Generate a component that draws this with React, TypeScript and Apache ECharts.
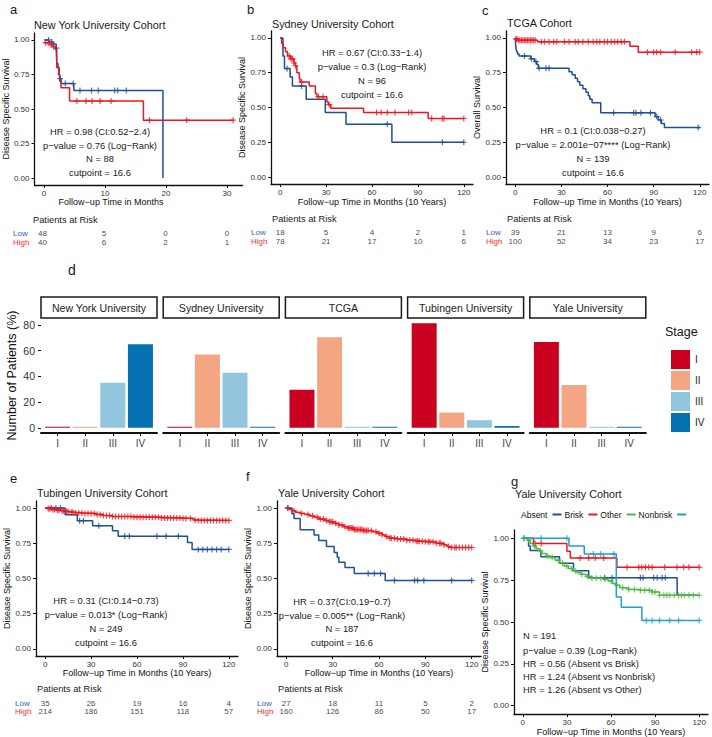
import React, { useEffect, useRef } from 'react';
import * as echarts from 'echarts';

const FONT = "'Liberation Sans', Arial, Helvetica, sans-serif";
const BLUE = '#1f4e9a';
const RED = '#f0161e';
const GREEN = '#4db944';
const CYAN = '#1ba3c8';
const LOWTXT = '#2f63b5';
const HIGHTXT = '#ff2a2a';

// ---------- shared ticks ----------
const survTicks = [0, 0.25, 0.5, 0.75, 1];
const months120Ticks = [0, 30, 60, 90, 120];
const nyuTicks = [0, 10, 20, 30];

// ---------- a: New York University ----------
const nyuLow = [[0, 1], [0.8, 0.985], [1.5, 0.97], [2.0, 0.94], [2.1, 0.83], [2.3, 0.8], [2.5, 0.75], [2.6, 0.72], [2.8, 0.684], [4.9, 0.634], [19.5, 0]];
const nyuHigh = [[0, 0.98], [1.0, 0.965], [1.5, 0.95], [1.9, 0.93], [2.1, 0.8], [2.4, 0.75], [2.6, 0.7], [2.8, 0.653], [4.2, 0.557], [16.3, 0.419], [31, 0.419]];
const nyuLowCensor = [0.75, 1.3, 2.05, 2.65, 3.5, 4.8, 5.9, 7.8, 8.9, 11.6, 12.1, 13.5];
const nyuHighCensor = [0.3, 0.7, 1.2, 1.6, 5.4, 6.9, 7.9, 9.2, 11.0, 17.3, 23.4, 31];
const nyuRiskTimes = [0, 10, 20, 30];
const nyuRiskLow = [48, 5, 0, 0];
const nyuRiskHigh = [40, 6, 2, 1];

// ---------- b: Sydney University ----------
const sydLow = [[0, 1], [1.8, 0.87], [2.8, 0.78], [6.5, 0.72], [8, 0.655], [17, 0.56], [29.5, 0.464], [43, 0.38], [73, 0.25], [120, 0.25]];
const sydHigh = [[0, 1], [1, 0.96], [2, 0.93], [3.5, 0.9], [4.8, 0.87], [7, 0.85], [9, 0.82], [10, 0.8], [10.9, 0.75], [12.5, 0.71], [13, 0.683], [19, 0.655], [23, 0.6], [24, 0.578], [30.5, 0.54], [31.5, 0.52], [33, 0.495], [54.5, 0.464], [96.7, 0.421], [120, 0.421]];
const sydLowCensor = [4.5, 14, 70, 106, 120];
const sydHighCensor = [6, 7, 8, 9, 10, 14, 25, 28, 32, 63, 66, 70, 75, 84, 86, 99, 106, 107, 120];
const sydRiskTimes = [0, 30, 60, 90, 120];
const sydRiskLow = [18, 5, 4, 2, 1];
const sydRiskHigh = [78, 21, 17, 10, 6];

// ---------- c: TCGA ----------
const tcgaLow = [[0, 1], [0.3, 0.95], [0.6, 0.92], [1, 0.9], [1.5, 0.885], [2.5, 0.87], [10, 0.85], [12.5, 0.83], [14, 0.81], [15, 0.782], [35, 0.757], [37, 0.735], [39, 0.71], [40.5, 0.685], [42, 0.66], [44, 0.635], [46, 0.61], [47.5, 0.585], [48.5, 0.56], [50, 0.535], [55.6, 0.462], [91, 0.435], [93, 0.41], [95, 0.385], [97, 0.356], [120, 0.356]];
const tcgaHigh = [[0, 0.993], [1.5, 0.983], [14.5, 0.972], [74.6, 0.94], [80, 0.898], [120, 0.898]];
const tcgaLowCensor = [6, 10.5, 13.4, 15.5, 20, 22, 64, 77, 78.5, 81.7, 88, 92, 94.5, 119];
const tcgaHighCensor = [0.5, 1, 2, 3, 4, 5, 6, 7, 8, 9, 10, 11, 12, 13, 17, 19, 22, 25, 27, 32, 35, 39, 41, 44, 47.5, 50.7, 53, 55, 58, 60, 62.5, 64.6, 66.7, 69, 71, 86, 90, 92, 94.5, 104, 114.7, 118, 120];
const tcgaRiskTimes = [0, 30, 60, 90, 120];
const tcgaRiskLow = [39, 21, 13, 9, 6];
const tcgaRiskHigh = [100, 52, 34, 23, 17];

// ---------- d: stage distribution ----------
const cohorts = ['New York University', 'Sydney University', 'TCGA', 'Tubingen University', 'Yale University'];
const stages = ['I', 'II', 'III', 'IV'];
const stageI = [0, 0, 29.5, 81.3, 66.7];
const stageII = [0, 57.1, 70.5, 11.8, 33.3];
const stageIII = [35, 42.9, 0, 5.9, 0];
const stageIV = [65, 0, 0, 1.3, 0];
const stageTicks = [0, 20, 40, 60, 80];
const stageColors = ['#ca0020', '#f4a582', '#92c5de', '#0571b0'];

// ---------- e: Tubingen ----------
const tubLow = [[0, 1], [13, 0.953], [21, 0.91], [31, 0.874], [44, 0.838], [47.7, 0.8], [93, 0.756], [96, 0.706], [120, 0.706]];
const tubHigh = [[0, 1], [2, 0.995], [4, 0.99], [7, 0.985], [10, 0.98], [13, 0.975], [16, 0.97], [20, 0.965], [25, 0.962], [33, 0.955], [38, 0.947], [44, 0.94], [58, 0.935], [76, 0.93], [90, 0.926], [97, 0.916], [100, 0.912], [120, 0.912]];
const tubLowCensor = [4, 7, 10, 22.5, 25, 35, 52, 55, 73, 79, 87, 100, 103, 106, 109, 112, 115, 120];
const tubHighCensor = [2, 3, 5, 6, 8, 9, 11, 12, 14, 15, 17, 18, 20, 22, 24, 26, 28, 30, 32, 34, 36, 38, 40, 42, 44, 46, 48, 50, 52, 54, 56, 58, 60, 62, 64, 66, 68, 70, 72, 74, 76, 78, 80, 82, 84, 86, 88, 90, 92, 95, 98, 100, 102, 104, 106, 108, 110, 112, 114, 116, 118, 120];
const tubRiskTimes = [0, 30, 60, 90, 120];
const tubRiskLow = [35, 26, 19, 16, 4];
const tubRiskHigh = [214, 186, 151, 118, 57];

// ---------- f: Yale ----------
const yaleLow = [[0, 1], [3.7, 0.96], [5, 0.926], [9, 0.846], [18, 0.808], [21, 0.77], [26, 0.727], [31, 0.685], [33, 0.65], [34, 0.616], [38, 0.578], [44, 0.536], [64, 0.486], [120, 0.486]];
const yaleHigh = [[0, 1], [2, 0.99], [4, 0.98], [6, 0.97], [9, 0.962], [12, 0.955], [15, 0.945], [18, 0.935], [21, 0.922], [25, 0.912], [28, 0.902], [31, 0.892], [34, 0.88], [37, 0.868], [40, 0.858], [44, 0.847], [50, 0.84], [56, 0.832], [59, 0.822], [62, 0.81], [64, 0.798], [67, 0.786], [72, 0.78], [78, 0.772], [84, 0.765], [90, 0.76], [97, 0.75], [102, 0.74], [104, 0.727], [106, 0.72], [120, 0.72]];
const yaleLowCensor = [1, 53, 57, 61, 70, 83, 85, 89, 107, 120];
const yaleHighCensor = [1, 5, 10, 14, 17, 20, 22, 24, 26, 28, 29, 30, 32, 34, 36, 38, 40, 41, 42, 43, 44, 45, 46, 47, 48, 49, 50, 51, 52, 53, 55, 58, 60, 62, 65, 67, 68, 70, 72, 74, 76, 78, 80, 82, 84, 85, 86, 88, 90, 92, 93, 95, 97, 99, 100, 102, 105, 107, 109, 110, 112, 114, 116, 118, 120];
const yaleRiskTimes = [0, 30, 60, 90, 120];
const yaleRiskLow = [27, 18, 11, 5, 2];
const yaleRiskHigh = [160, 126, 86, 50, 17];

// ---------- g: Yale TIL groups ----------
const tilAbsent = [[0, 1], [3.9, 0.954], [5, 0.927], [12.3, 0.89], [25, 0.851], [34.5, 0.807], [44.8, 0.764], [105, 0.66], [120, 0.66]];
const tilBrisk = [[0, 1], [7.3, 0.97], [30, 0.923], [32.3, 0.883], [64, 0.827], [120, 0.827]];
const tilOther = [[0, 1], [3, 0.99], [5, 0.97], [7, 0.955], [9, 0.94], [11, 0.925], [13, 0.91], [16, 0.895], [19, 0.885], [22, 0.87], [25, 0.855], [28, 0.835], [31, 0.82], [34, 0.805], [37, 0.795], [40, 0.785], [43, 0.772], [47, 0.762], [55, 0.755], [58, 0.745], [61, 0.73], [63, 0.72], [66, 0.705], [72, 0.695], [80, 0.69], [88, 0.68], [93, 0.66], [120, 0.66]];
const tilNonbrisk = [[0, 1], [31.4, 0.954], [41.8, 0.907], [63.6, 0.649], [67, 0.589], [81, 0.51], [120, 0.51]];
const tilAbsentCensor = [55.7, 60.7, 80, 81.8, 89, 91.4, 94.8, 97];
const tilBriskCensor = [8.4, 12.5, 39, 44.8, 49.3, 55, 70.9, 78.9, 81, 83.4, 85.7, 88, 96.6, 105, 109.5, 113, 120];
const tilOtherCensor = [1, 4, 8, 12, 17, 20, 24, 27, 30, 33, 36, 40, 44, 47, 50, 53, 56, 60, 64, 68, 72, 76, 80, 83, 86, 88, 90, 93, 96, 98, 100, 103, 106, 108, 110, 113, 116, 120];
const tilNonbriskCensor = [0.5, 12.5, 30, 48, 53, 62, 84, 88, 93, 100, 106, 120];

const PLUS = 'path://M3.6,0H5.4V3.6H9V5.4H5.4V9H3.6V5.4H0V3.6H3.6Z';

function survAt(curve: number[][], t: number) {
  let s = curve[0][1];
  for (const [ti, si] of curve) {
    if (ti <= t) s = si;
    else break;
  }
  return s;
}

function buildOption() {
  const grid: any[] = [];
  const xAxis: any[] = [];
  const yAxis: any[] = [];
  const series: any[] = [];
  const graphic: any[] = [];

  const txt = (x: number, y: number, text: string, size: number, align = 'left', fill = '#1a1a1a') => {
    graphic.push({
      type: 'text', x, y, silent: true,
      style: { text, fontSize: size, fontFamily: FONT, fill, align, verticalAlign: 'middle', textAlign: align, textVerticalAlign: 'middle' },
    });
  };

  const axisLine = { show: true, onZero: false, lineStyle: { color: '#111', width: 1.3 } };

  function km(p: any) {
    const gi = grid.length;
    grid.push({ left: p.left, top: p.top, width: p.width, height: p.height });
    xAxis.push({
      gridIndex: gi, type: 'value', min: p.xMin, max: p.xMax,
      axisLine,
      axisTick: { show: true, customValues: p.xTicks, length: 3, lineStyle: { color: '#111', width: 1 } },
      axisLabel: { customValues: p.xTicks, fontSize: 8, color: '#333', margin: 4, fontFamily: FONT },
      splitLine: { show: false },
      name: p.xName || '', nameLocation: 'middle', nameGap: p.xNameGap,
      nameTextStyle: { fontSize: 9, color: '#111', fontFamily: FONT },
    });
    yAxis.push({
      gridIndex: gi, type: 'value', min: -0.05, max: 1.05,
      axisLine,
      axisTick: { show: true, customValues: survTicks, length: 3, lineStyle: { color: '#111', width: 1 } },
      axisLabel: { customValues: survTicks, formatter: (v: number) => Number(v).toFixed(2), fontSize: 8, color: '#333', margin: 5, fontFamily: FONT },
      splitLine: { show: false },
      name: p.yName, nameLocation: 'middle', nameGap: p.yNameGap,
      nameTextStyle: { fontSize: 9, color: '#111', fontFamily: FONT },
    });
    for (const c of p.curves) {
      series.push({
        type: 'line', name: c.name, step: 'end', data: c.data, showSymbol: false, symbol: 'none',
        xAxisIndex: gi, yAxisIndex: gi, color: c.color,
        itemStyle: { color: c.color }, lineStyle: { color: c.color, width: 1.5 }, z: 2,
      });
      series.push({
        type: 'scatter', name: c.name + ' censored', symbol: PLUS, symbolSize: 6,
        data: c.censor.map((t: number) => [t, survAt(c.data, t)]),
        xAxisIndex: gi, yAxisIndex: gi, itemStyle: { color: c.color }, z: 3,
      });
    }
    if (p.risk) {
      const r = p.risk;
      const ri = grid.length;
      grid.push({ left: p.left, top: r.top, width: p.width, height: 17 });
      xAxis.push({ gridIndex: ri, type: 'value', min: p.xMin, max: p.xMax, show: false });
      yAxis.push({
        gridIndex: ri, type: 'category', data: ['High', 'Low'],
        axisLine: { show: false }, axisTick: { show: false }, splitLine: { show: false },
        axisLabel: {
          interval: 0, hideOverlap: false,
          align: 'left', margin: r.margin, fontFamily: FONT,
          formatter: (v: string) => `{${v === 'Low' ? 'lo' : 'hi'}|${v}}`,
          rich: { lo: { color: LOWTXT, fontSize: 8, fontFamily: FONT }, hi: { color: HIGHTXT, fontSize: 8, fontFamily: FONT } },
        },
      });
      const mk = (cat: string, vals: number[]) => ({
        type: 'scatter', symbolSize: 1, xAxisIndex: ri, yAxisIndex: ri,
        itemStyle: { color: 'rgba(0,0,0,0)' },
        data: r.times.map((t: number, i: number) => [t, cat, vals[i]]),
        label: { show: true, position: 'inside', formatter: (q: any) => String(q.value[2]), fontSize: 8, color: '#111', fontFamily: FONT },
        labelLayout: { hideOverlap: false },
      });
      series.push(mk('Low', r.low));
      series.push(mk('High', r.high));
      txt(r.titleX, r.titleY, 'Patients at Risk', 9.3);
    }
    txt(p.letterX, p.letterY, p.letter, 13);
    txt(p.titleX, p.titleY, p.title, 10.8);
    p.notes.forEach((n: string, i: number) => txt(p.noteX, p.noteYs[i], n, 9.4, p.noteAlign || 'center'));
  }

  // a
  km({
    left: 33, top: 33, width: 209.6, height: 152, xMin: -1.55, xMax: 32.55, xTicks: nyuTicks,
    xName: '', xNameGap: 13, yName: 'Disease Specific Survival', yNameGap: 20,
    curves: [
      { name: 'NYU Low', color: BLUE, data: nyuLow, censor: nyuLowCensor },
      { name: 'NYU High', color: RED, data: nyuHigh, censor: nyuHighCensor },
    ],
    risk: { top: 229.5, margin: 20, times: nyuRiskTimes, low: nyuRiskLow, high: nyuRiskHigh, titleX: 33, titleY: 220 },
    letter: 'a', letterX: 10, letterY: 9, title: 'New York University Cohort', titleX: 34, titleY: 25,
    noteX: 100, noteYs: [131.7, 145, 158.3, 172.3],
    notes: ['HR = 0.98 (CI:0.52\u22122.4)', 'p\u2212value = 0.76 (Log\u2212Rank)', 'N = 88', 'cutpoint = 16.6'],
  });
  txt(111, 202, 'Follow\u2212up Time in Months', 9, 'center', '#111');

  // b
  km({
    left: 271, top: 31, width: 202, height: 153, xMin: -6, xMax: 126, xTicks: months120Ticks,
    xName: 'Follow\u2212up Time in Months (10 Years)', xNameGap: 13, yName: 'Disease Specific Survival', yNameGap: 22,
    curves: [
      { name: 'Syd Low', color: BLUE, data: sydLow, censor: sydLowCensor },
      { name: 'Syd High', color: RED, data: sydHigh, censor: sydHighCensor },
    ],
    risk: { top: 228.5, margin: 20, times: sydRiskTimes, low: sydRiskLow, high: sydRiskHigh, titleX: 272, titleY: 219 },
    letter: 'b', letterX: 247, letterY: 9, title: 'Sydney University Cohort', titleX: 272, titleY: 24,
    noteX: 372, noteYs: [52.7, 66.7, 80, 94.3],
    notes: ['HR = 0.67 (CI:0.33\u22121.4)', 'p\u2212value = 0.3 (Log\u2212Rank)', 'N = 96', 'cutpoint = 16.6'],
  });

  // c
  km({
    left: 506, top: 31, width: 203, height: 153, xMin: -6, xMax: 126, xTicks: months120Ticks,
    xName: 'Follow\u2212up Time in Months (10 Years)', xNameGap: 13, yName: 'Overall Survival', yNameGap: 22,
    curves: [
      { name: 'TCGA Low', color: BLUE, data: tcgaLow, censor: tcgaLowCensor },
      { name: 'TCGA High', color: RED, data: tcgaHigh, censor: tcgaHighCensor },
    ],
    risk: { top: 228.5, margin: 20, times: tcgaRiskTimes, low: tcgaRiskLow, high: tcgaRiskHigh, titleX: 507, titleY: 219 },
    letter: 'c', letterX: 482, letterY: 10, title: 'TCGA Cohort', titleX: 507, titleY: 23,
    noteX: 593, noteYs: [130, 144, 158.3, 172.3],
    notes: ['HR = 0.1 (CI:0.038\u22120.27)', 'p\u2212value = 2.001e\u221207**** (Log\u2212Rank)', 'N = 139', 'cutpoint = 16.6'],
  });

  // d
  const stageVals = [stageI, stageII, stageIII, stageIV];
  cohorts.forEach((name, i) => {
    const gi = grid.length;
    const left = 41 + i * 122.2;
    grid.push({ left, top: 318, width: 116, height: 115 });
    xAxis.push({
      gridIndex: gi, type: 'value', min: 0.4, max: 4.6,
      axisLine: { show: true, onZero: false, lineStyle: { color: '#111', width: 2 } },
      axisTick: { show: true, customValues: [1, 2, 3, 4], length: 3, lineStyle: { color: '#111', width: 1 } },
      axisLabel: { customValues: [1, 2, 3, 4], formatter: (v: number) => stages[Math.round(v) - 1], fontSize: 10, color: '#444', margin: 5, fontFamily: FONT },
      splitLine: { show: false },
    });
    yAxis.push({
      gridIndex: gi, type: 'value', min: -4.07, max: 85.4, show: i === 0,
      axisLine: { show: false, onZero: false },
      axisTick: { show: true, customValues: stageTicks, length: 3, lineStyle: { color: '#111' } },
      axisLabel: { customValues: stageTicks, fontSize: 10.5, color: '#333', margin: 6, fontFamily: FONT },
      splitLine: { show: false },
      name: i === 0 ? 'Number of Patients (%)' : '', nameLocation: 'middle', nameGap: 23,
      nameTextStyle: { fontSize: 12.5, color: '#111', fontFamily: FONT },
    });
    stages.forEach((s, k) => {
      series.push({
        type: 'bar', name: s, xAxisIndex: gi, yAxisIndex: gi, barWidth: 25, barGap: '-100%', barMinHeight: 1,
        data: [[k + 1, stageVals[k][i]]], color: stageColors[k], itemStyle: { color: stageColors[k] },
      });
    });
    graphic.push({ type: 'rect', silent: true, shape: { x: left, y: 297, width: 116, height: 21 }, style: { fill: '#fff', stroke: '#1a1a1a', lineWidth: 1.5 } });
    txt(left + 58, 307.5, name, 10.6, 'center', '#222');
  });
  txt(68, 270, 'd', 14);
  txt(665, 332, 'Stage', 12.5, 'left', '#111');

  // e
  km({
    left: 36, top: 501, width: 202, height: 155, xMin: -6, xMax: 126, xTicks: months120Ticks,
    xName: 'Follow\u2212up Time in Months (10 Years)', xNameGap: 11, yName: 'Disease Specific Survival', yNameGap: 23,
    curves: [
      { name: 'Tub Low', color: BLUE, data: tubLow, censor: tubLowCensor },
      { name: 'Tub High', color: RED, data: tubHigh, censor: tubHighCensor },
    ],
    risk: { top: 699, margin: 21, times: tubRiskTimes, low: tubRiskLow, high: tubRiskHigh, titleX: 37, titleY: 689 },
    letter: 'e', letterX: 10, letterY: 478, title: 'Tubingen University Cohort', titleX: 37, titleY: 493,
    noteX: 106, noteYs: [600, 614.3, 628.3, 642.3],
    notes: ['HR = 0.31 (CI:0.14\u22120.73)', 'p\u2212value = 0.013* (Log\u2212Rank)', 'N = 249', 'cutpoint = 16.6'],
  });

  // f
  km({
    left: 277, top: 501, width: 204, height: 155, xMin: -6, xMax: 126, xTicks: months120Ticks,
    xName: 'Follow\u2212up Time in Months (10 Years)', xNameGap: 11, yName: 'Disease Specific Survival', yNameGap: 23,
    curves: [
      { name: 'Yale Low', color: BLUE, data: yaleLow, censor: yaleLowCensor },
      { name: 'Yale High', color: RED, data: yaleHigh, censor: yaleHighCensor },
    ],
    risk: { top: 699, margin: 20, times: yaleRiskTimes, low: yaleRiskLow, high: yaleRiskHigh, titleX: 278, titleY: 689 },
    letter: 'f', letterX: 246, letterY: 476, title: 'Yale University Cohort', titleX: 278, titleY: 493,
    noteX: 342, noteYs: [601.7, 615, 628.3, 642.3],
    notes: ['HR = 0.37(CI:0.19\u22120.7)', 'p\u2212value = 0.005** (Log\u2212Rank)', 'N = 187', 'cutpoint = 16.6'],
  });

  // g
  km({
    left: 514, top: 530, width: 194, height: 185, xMin: -6, xMax: 126, xTicks: months120Ticks,
    xName: 'Follow\u2212up Time in Months (10 Years)', xNameGap: 9, yName: 'Disease Specific Survival', yNameGap: 21,
    curves: [
      { name: 'Absent', color: BLUE, data: tilAbsent, censor: tilAbsentCensor },
      { name: 'Brisk', color: RED, data: tilBrisk, censor: tilBriskCensor },
      { name: 'Other', color: GREEN, data: tilOther, censor: tilOtherCensor },
      { name: 'Nonbrisk', color: CYAN, data: tilNonbrisk, censor: tilNonbriskCensor },
    ],
    letter: 'g', letterX: 511, letterY: 481, title: 'Yale University Cohort', titleX: 515, titleY: 494,
    noteX: 523, noteAlign: 'left', noteYs: [635.7, 650, 663.3, 676, 689.3],
    notes: ['N = 191', 'p\u2212value = 0.39 (Log\u2212Rank)', 'HR = 0.56 (Absent vs Brisk)', 'HR = 1.24 (Absent vs Nonbrisk)', 'HR = 1.26 (Absent vs Other)'],
  });

  return {
    animation: false,
    backgroundColor: '#fff',
    textStyle: { fontFamily: FONT },
    grid, xAxis, yAxis, series, graphic,
    legend: [
      {
        data: stages, orient: 'vertical', left: 666, top: 345, itemWidth: 19, itemHeight: 19, itemGap: 2,
        icon: 'rect', selectedMode: false, textStyle: { fontSize: 10, color: '#222', fontFamily: FONT },
      },
      {
        data: ['Absent', 'Brisk', 'Other', 'Nonbrisk'], orient: 'horizontal', left: 521, top: 510, align: 'right',
        itemWidth: 9, itemHeight: 2, itemGap: 3, icon: 'rect', selectedMode: false, padding: 0,
        textStyle: { fontSize: 8.5, color: '#111', fontFamily: FONT },
      },
    ],
  };
}

export default function App() {
  const ref = useRef<HTMLDivElement>(null);
  useEffect(() => {
    const chart = echarts.init(ref.current!, null, { renderer: 'svg' });
    chart.setOption(buildOption() as any);
    return () => chart.dispose();
  }, []);
  return (
    <div
      ref={ref}
      style={{ position: 'absolute', left: 0, top: 0, width: 712, height: 737, background: '#fff' }}
    />
  );
}
